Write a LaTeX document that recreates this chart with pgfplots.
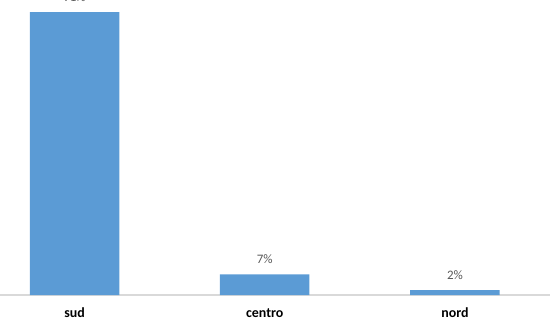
\documentclass[border=0pt]{standalone}
\usepackage{pgfplots}
\pgfplotsset{compat=1.18}
\usepackage{fontspec}
\setmainfont{Carlito}
\definecolor{barblue}{HTML}{5B9BD5}
\definecolor{axisgray}{HTML}{D9D9D9}
\definecolor{labelgray}{HTML}{595959}
\begin{document}
\begin{tikzpicture}
\useasboundingbox (0,-25bp) rectangle (560bp,295bp);
\begin{axis}[
  at={(0,0)}, anchor=south west,
  scale only axis,
  width=550bp, height=295bp,
  xmin=-0.392, xmax=2.5,
  ymin=0, ymax=94.86,
  clip=false,
  /pgf/number format/assume math mode=true,
  axis x line*=bottom,
  axis y line=none,
  axis line style={axisgray, line width=1.5bp, -},
  xtick=data,
  xticklabels={sud, centro, nord},
  major tick length=0pt,
  xticklabel style={font=\fontsize{14}{16}\selectfont\bfseries, text=black, anchor=base, inner sep=0pt, yshift=-22bp},
  ytick=\empty,
  ybar, bar width=89.5bp,
  nodes near coords={\pgfmathprintnumber[fixed,precision=0]{\pgfplotspointmeta}\%},
  every node near coord/.append style={font=\fontsize{13}{15}\selectfont, text=labelgray, anchor=base, inner sep=0pt, yshift=11bp},
]
\addplot[fill=barblue, draw=none] coordinates {(0,91) (1,6.6) (2,1.6)};
\end{axis}
\end{tikzpicture}
\end{document}
